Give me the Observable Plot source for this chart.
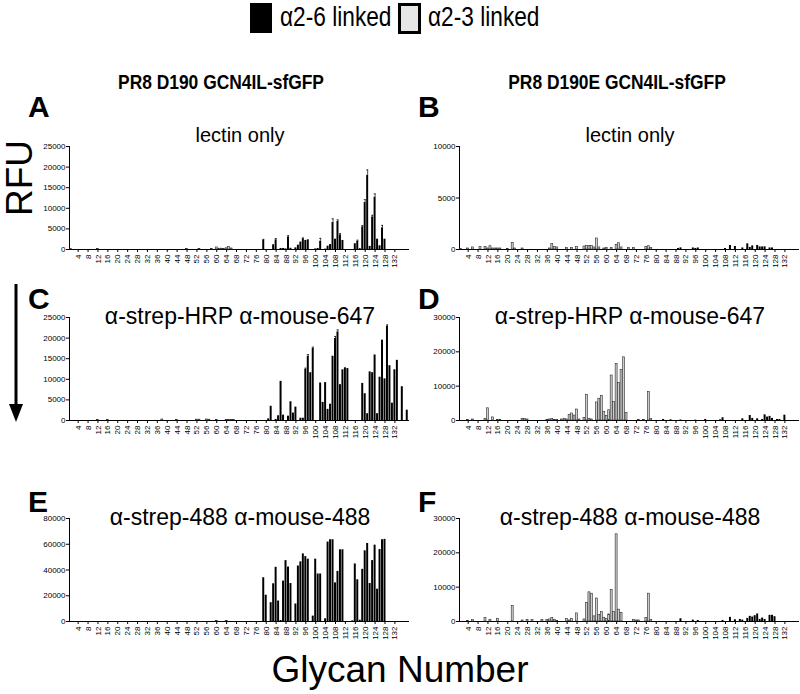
<!DOCTYPE html>
<html><head><meta charset="utf-8">
<script src="https://cdn.jsdelivr.net/npm/d3@7"></script>
<script src="https://cdn.jsdelivr.net/npm/@observablehq/plot@0.6"></script>
<style>
body{margin:0;width:800px;height:694px;position:relative;background:#fff;font-family:"Liberation Sans",Arial,Helvetica,sans-serif;overflow:hidden;color:#000}
.abs{position:absolute;white-space:nowrap;line-height:1}
.hdr{font-weight:bold;font-size:20px;transform:translateX(-50%) scaleX(0.87)}
.sub{font-size:20px;transform:translateX(-50%)}
.sub2{font-size:23px;transform:translateX(-50%)}
.let{font-weight:bold;font-size:30px;line-height:22px}
.panel{position:absolute}
.big{font-size:37px}
.leg{font-size:28px;transform:scaleX(0.81);transform-origin:0 0}
.vert{writing-mode:vertical-rl;transform:rotate(180deg)}
</style></head><body>
<script>
// ---- categories ----
const glycans = d3.range(1, 138);          // glycan numbers on the array
const xTickLabels = d3.range(4, 133, 4);   // labelled glycans
const alpha23Glycans = d3.range(1, 79);    // α2-3 linked (grey)
const legendLabels = ["α2-6 linked", "α2-3 linked"];

// ---- RFU values, glycan 1..137 ----
const lectinD190 = [
 100,0,0,0,0,0,0,0,0,0,
 0,100,0,0,0,0,0,0,0,0,
 0,0,0,0,0,0,0,0,0,0,
 0,0,0,0,0,0,0,0,0,0,
 0,0,0,0,0,0,0,150,0,0,
 0,0,150,0,0,0,0,100,0,500,
 200,200,100,300,600,250,0,0,0,0,
 0,0,0,0,0,0,0,0,2250,0,
 0,0,1150,2350,0,250,250,150,3050,300,
 0,400,1050,1800,2600,2200,2350,0,0,150,
 250,2000,0,100,800,1200,6550,2500,6800,3550,
 2200,0,0,0,0,1400,1950,200,5500,11400,
 18000,750,7900,12700,2500,900,5250,2500,0,0,
 0,0,0,0,0,0,0];
const lectinD190E = [
 50,0,0,100,0,200,0,0,230,0,
 230,100,320,100,100,100,100,0,0,50,
 0,650,100,0,0,100,0,0,0,0,
 0,0,0,0,0,0,100,520,230,200,
 0,0,0,150,0,150,0,260,0,0,
 290,350,350,350,200,1070,200,0,100,150,
 0,150,0,420,610,200,0,0,150,0,
 150,0,0,0,0,260,320,150,0,0,
 0,0,0,0,0,0,0,0,100,160,
 0,0,0,0,150,100,150,0,0,0,
 0,0,0,0,0,0,0,100,0,390,
 0,290,0,0,150,0,550,200,350,0,
 390,250,250,260,0,150,150,0,0,0,
 0,0,0,0,0,0,0];
const hrpD190 = [
 0,0,0,0,0,0,0,0,0,0,
 0,100,0,0,0,100,0,0,0,0,
 0,0,0,0,0,0,0,0,0,0,
 0,0,0,0,0,0,0,250,0,0,
 0,0,0,150,0,0,0,0,0,0,
 0,200,200,0,0,250,200,0,0,100,
 0,0,0,150,150,150,150,0,0,0,
 0,0,0,0,0,0,0,0,0,0,
 400,3450,0,250,1150,9500,1300,0,1050,4550,
 1800,3250,0,550,550,12400,15600,11600,17500,0,
 0,9100,4400,9200,2700,3950,15600,19900,21500,8700,
 12300,12800,12600,0,0,0,0,0,9000,6500,
 1650,11800,11600,15900,1650,10500,19500,10100,22900,13300,
 4200,12300,14600,0,8200,0,2500];
const hrpD190E = [
 0,0,0,100,0,300,0,0,0,0,
 500,3550,0,900,0,200,200,0,0,0,
 0,0,0,0,0,400,500,300,0,0,
 0,0,0,0,0,200,300,500,200,150,
 0,300,500,300,1650,2050,1450,3200,300,0,
 700,7500,500,300,0,5250,6350,7200,2550,1350,
 3000,13100,5350,16400,10900,14700,18400,2150,0,0,
 0,0,200,0,200,0,8300,400,0,0,
 0,0,300,0,0,200,0,0,0,150,
 0,0,0,0,0,100,0,0,0,300,
 0,0,0,0,0,200,800,0,0,0,
 0,0,0,0,500,0,0,1450,600,0,
 500,0,300,1650,1000,1200,600,0,300,300,
 0,1550,0,0,0,0,0];
const a488D190 = [
 0,0,0,0,0,0,0,0,0,0,
 0,0,0,0,0,0,0,0,0,0,
 0,0,0,0,0,0,0,0,0,0,
 0,0,0,0,0,0,0,0,0,0,
 0,0,0,0,0,0,0,0,0,0,
 0,0,0,0,0,0,0,0,0,300,
 0,0,0,400,0,0,0,0,0,0,
 0,0,0,0,0,0,0,0,34000,20400,
 0,14600,29300,42100,15900,800,31400,47300,42300,29500,
 0,13600,43100,46300,52500,50400,48400,0,4200,48400,
 36900,36900,0,2100,61700,63500,63500,30000,38900,55700,
 55700,0,0,0,500,44700,32400,1000,40500,54900,
 60600,29500,47300,59300,25100,55900,63500,63800,0,0,
 0,0,0,0,0,0,0];
const a488D190E = [
 0,0,0,100,0,400,0,0,0,0,
 1000,0,500,0,0,800,0,0,0,0,
 0,4500,0,0,0,300,0,400,0,400,
 0,0,0,400,0,400,600,1000,500,200,
 0,0,0,700,300,700,0,2350,0,0,
 600,5400,8500,8100,1500,6700,1950,2750,1100,700,
 2050,9200,2750,25400,3450,2450,0,0,0,0,
 500,300,300,0,0,1000,8100,400,0,0,
 0,0,0,0,0,0,0,0,0,800,
 0,0,0,0,400,0,300,0,0,0,
 0,0,0,0,0,0,300,0,0,1200,
 0,500,0,600,400,0,900,1500,1300,1700,
 2200,600,1000,600,0,1800,1800,1400,0,0,
 0,0,0,0,0,0,0];

// error bars (SD) where visible: [glycan, sd]
const errLectinD190 = [[79,200],[84,300],[89,300],[95,200],[102,700],[107,900],[109,400],[110,300],[117,300],[119,300],[120,700],[121,1300],[123,400],[124,800],[127,600]];
const errHrpD190 = [[96,300],[97,400],[99,300],[108,500],[109,500],[129,300]];

// y axes
const yTicksA = d3.range(0, 25001, 5000);
const yTicksB = [0, 5000, 10000];
const yTicksD = [0, 10000, 20000, 30000];
const yTicksE = d3.range(0, 80001, 20000);

const panels = [
  {vals: lectinD190,  err: errLectinD190, max: 25000, ticks: yTicksA, left: 0,   top: 140},
  {vals: lectinD190E, err: [],            max: 10000, ticks: yTicksB, left: 390, top: 140},
  {vals: hrpD190,     err: errHrpD190,    max: 25000, ticks: yTicksA, left: 0,   top: 311},
  {vals: hrpD190E,    err: [],            max: 30000, ticks: yTicksD, left: 390, top: 311},
  {vals: a488D190,    err: [],            max: 80000, ticks: yTicksE, left: 0,   top: 512},
  {vals: a488D190E,   err: [],            max: 30000, ticks: yTicksD, left: 390, top: 512},
];

function makePanel(p) {
  const a23 = new Set(alpha23Glycans);
  const data = glycans.map((g, i) => ({g, v: p.vals[i], grey: a23.has(g)}));
  const errs = p.err.map(([g, sd]) => ({g, v: p.vals[g - 1], top: p.vals[g - 1] + sd}));
  return Plot.plot({
    width: 410, height: 149,
    marginLeft: 69, marginRight: 2, marginTop: 6, marginBottom: 40,
    style: {fontFamily: "'Liberation Sans', Arial, sans-serif", fontSize: "8px", background: "transparent", color: "#000", overflow: "visible"},
    x: {type: "band", domain: glycans, paddingInner: 0.2, paddingOuter: 0.1, ticks: xTickLabels,
        tickRotate: -90, tickSize: 3, tickPadding: 2, line: true, label: null},
    y: {domain: [0, p.max], ticks: p.ticks, tickSize: 3, tickPadding: 1, line: true, label: null,
        tickFormat: d => String(d)},
    marks: [
      Plot.barY(data.filter(d => d.grey), {x: "g", y: "v", fill: "#cfcfcf", stroke: "#2a2a2a", strokeWidth: 0.6}),
      Plot.barY(data.filter(d => !d.grey), {x: "g", y: "v", fill: "#000"}),
      Plot.ruleX(errs, {x: "g", y1: "v", y2: "top", stroke: "#000", strokeWidth: 0.7}),
      Plot.tickY(errs, {x: "g", y: "top", stroke: "#000", strokeWidth: 0.7}),
    ]
  });
}

for (const p of panels) {
  const svg = makePanel(p);
  const wrap = document.createElement("div");
  wrap.className = "panel";
  wrap.style.left = p.left + "px";
  wrap.style.top = p.top + "px";
  wrap.appendChild(svg);
  document.body.appendChild(wrap);
}

function addText(cls, text, left, top, extra) {
  const d = document.createElement("div");
  d.className = "abs " + cls;
  d.textContent = text;
  d.style.left = left + "px";
  d.style.top = top + "px";
  if (extra) Object.assign(d.style, extra);
  document.body.appendChild(d);
  return d;
}

// legend
addText("", "", 250, 3, {width: "22px", height: "30px", background: "#000"});
addText("leg", legendLabels[0], 280, 3);
addText("", "", 398, 3, {width: "17px", height: "25px", background: "#e6e6e6", border: "3px solid #000"});
addText("leg", legendLabels[1], 428, 3);

// column headers
addText("hdr", "PR8 D190 GCN4IL-sfGFP", 221, 72);
addText("hdr", "PR8 D190E GCN4IL-sfGFP", 617, 72);
// panel letters
addText("let", "A", 28, 96);
addText("let", "B", 418, 96);
addText("let", "C", 28, 288);
addText("let", "D", 418, 288);
addText("let", "E", 28, 491);
addText("let", "F", 418, 491);
// subtitles
addText("sub", "lectin only", 240, 125);
addText("sub", "lectin only", 630, 125);
addText("sub2", "α-strep-HRP α-mouse-647", 240, 305);
addText("sub2", "α-strep-HRP α-mouse-647", 630, 305);
addText("sub2", "α-strep-488 α-mouse-488", 240, 506);
addText("sub2", "α-strep-488 α-mouse-488", 630, 506);
// global axis titles
addText("big vert", "RFU", 1, 140);
addText("big", "Glycan Number", 400, 651, {transform: "translateX(-50%)"});

// arrow
const ns = "http://www.w3.org/2000/svg";
const arr = document.createElementNS(ns, "svg");
arr.setAttribute("width", 30); arr.setAttribute("height", 150);
arr.style.position = "absolute"; arr.style.left = "2px"; arr.style.top = "280px";
arr.innerHTML = '<line x1="14" y1="4" x2="14" y2="128" stroke="#000" stroke-width="3"/><path d="M7,124 L21,124 L14,142 Z" fill="#000"/>';
document.body.appendChild(arr);
</script>
</body></html>
